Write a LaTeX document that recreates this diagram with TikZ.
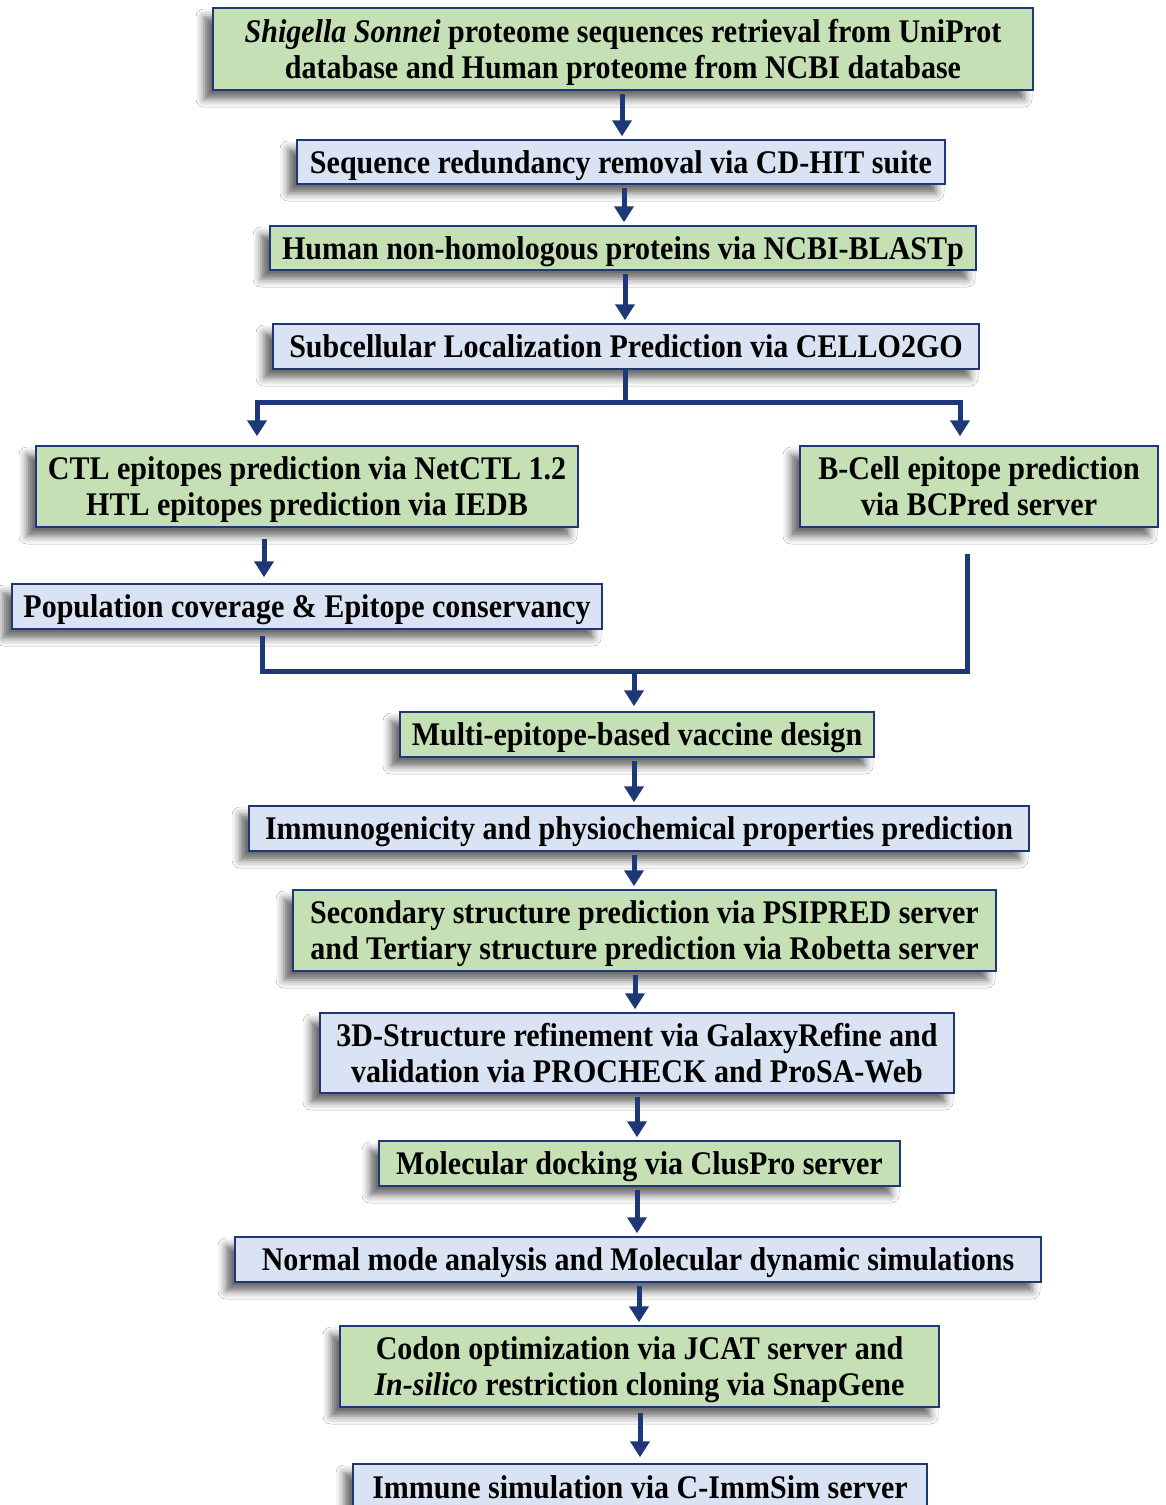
\documentclass[tikz,border=0pt]{standalone}
\usepackage{fontspec}
\setmainfont[FakeStretch=0.91]{Liberation Serif}
\usetikzlibrary{arrows.meta,shadows.blur}
\definecolor{gfill}{HTML}{C5E0B4}
\definecolor{bfill}{HTML}{DAE3F3}
\definecolor{navy}{HTML}{1D3777}
\begin{document}
\begin{tikzpicture}[x=1pt,y=-1pt,
  box/.style={draw=navy, line width=1.5pt, inner sep=0pt, align=center, text depth=0pt,
    font=\fontsize{33}{36}\selectfont\bfseries,
    blur shadow={shadow xshift=-9pt, shadow yshift=-9pt, shadow blur radius=8pt, shadow opacity=60}},
  gbox/.style={box, fill=gfill},
  bbox/.style={box, fill=bfill},
  ln/.style={draw=navy, line width=5pt},
  arr/.style={ln, -{Triangle[width=19pt,length=16pt]}, shorten <=3pt, shorten >=3pt}]
\useasboundingbox (0,0) rectangle (1166,1505);
\fill[white] (0,0) rectangle (1166,1505);

\node[gbox, minimum width=820, minimum height=82] (n1) at (623,49)
  {\textit{Shigella Sonnei} proteome sequences retrieval from UniProt\\database and Human proteome from NCBI database};
\node[bbox, minimum width=648, minimum height=44] (n2) at (621,162)
  {Sequence redundancy removal via CD-HIT suite};
\node[gbox, minimum width=706, minimum height=44] (n3) at (623,248)
  {Human non-homologous proteins via NCBI-BLASTp};
\node[bbox, minimum width=706, minimum height=45] (n4) at (626,346.5)
  {Subcellular Localization Prediction via CELLO2GO};
\node[gbox, minimum width=542, minimum height=81] (n5) at (307,486.5)
  {CTL epitopes prediction via NetCTL 1.2\\HTL epitopes prediction via IEDB};
\node[gbox, minimum width=358, minimum height=81] (n6) at (979,486.5)
  {B-Cell epitope prediction\\via BCPred server};
\node[bbox, minimum width=590, minimum height=45] (n7) at (307,606.5)
  {Population coverage \& Epitope conservancy};
\node[gbox, minimum width=474, minimum height=45] (n8) at (637,734.5)
  {Multi-epitope-based vaccine design};
\node[bbox, minimum width=780, minimum height=45] (n9) at (639,828.5)
  {Immunogenicity and physiochemical properties prediction};
\node[gbox, minimum width=703, minimum height=81] (n10) at (644.5,930.5)
  {Secondary structure prediction via PSIPRED server\\and Tertiary structure prediction via Robetta server};
\node[bbox, minimum width=634, minimum height=80] (n11) at (637,1053)
  {3D-Structure refinement via GalaxyRefine and\\validation via PROCHECK and ProSA-Web};
\node[gbox, minimum width=521, minimum height=45] (n12) at (639.5,1163.5)
  {Molecular docking via ClusPro server};
\node[bbox, minimum width=806, minimum height=45] (n13) at (638,1259.5)
  {Normal mode analysis and Molecular dynamic simulations};
\node[gbox, minimum width=599, minimum height=81] (n14) at (639.5,1366.5)
  {Codon optimization via JCAT server and\\\textit{In-silico} restriction cloning via SnapGene};
\node[bbox, minimum width=574, minimum height=46] (n15) at (640,1487)
  {Immune simulation via C-ImmSim server};

\coordinate (j) at (625,402);
\coordinate (m) at (634,671);

\draw[arr] (n1.south -| 622,0) -- (n2.north -| 622,0);
\draw[arr] (n2.south -| 624,0) -- (n3.north -| 624,0);
\draw[arr] (n3.south -| 625,0) -- (n4.north -| 625,0);
\draw[ln] (n4.south -| 625,0) -- (j);
\draw[arr, shorten <=0pt, shorten >=9pt] (j) -| (n5.north -| 257,0);
\draw[arr, shorten <=0pt, shorten >=9pt] (j) -| (n6.north -| 960,0);
\draw[arr, shorten <=11pt, shorten >=6pt] (n5.south -| 264,0) -- (n7.north -| 264,0);
\draw[ln, shorten <=6pt] (n7.south -| 262,0) |- (m);
\draw[ln, shorten <=26pt] (n6.south -| 967,0) |- (m);
\draw[arr, shorten <=0pt, shorten >=5pt] (m) -- (n8.north -| 634,0);
\draw[arr] (n8.south -| 634,0) -- (n9.north -| 634,0);
\draw[arr] (n9.south -| 634,0) -- (n10.north -| 634,0);
\draw[arr] (n10.south -| 635,0) -- (n11.north -| 635,0);
\draw[arr] (n11.south -| 637,0) -- (n12.north -| 637,0);
\draw[arr] (n12.south -| 637,0) -- (n13.north -| 637,0);
\draw[arr] (n13.south -| 639,0) -- (n14.north -| 639,0);
\draw[arr, shorten <=5pt, shorten >=6pt] (n14.south -| 640,0) -- (n15.north -| 640,0);
\end{tikzpicture}
\end{document}
